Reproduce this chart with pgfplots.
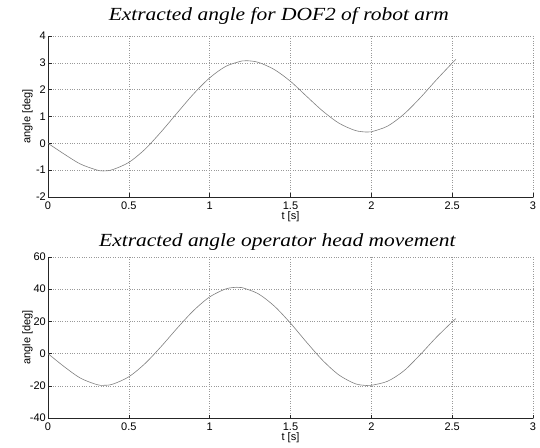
\documentclass[border=0pt]{standalone}
\usepackage{fontspec}
\setmainfont{Liberation Sans}
\newfontfamily\titlefont{Liberation Serif}
\usepackage{pgfplots}
\pgfplotsset{compat=1.18}

\newcommand{\lblfont}{\fontsize{11}{13}\selectfont}

\pgfplotsset{
  matlabplot/.style={
    scale only axis, width=485pt, height=161pt,
    anchor=south west,
    xmin=0, xmax=3,
    xtick={0,0.5,1,1.5,2,2.5,3},
    axis x line=bottom, axis y line=left,
    axis line style={-, black!85, line width=0.5pt},
    tick align=inside, major tick length=3.5pt,
    tick style={black!85, line width=0.5pt},
    grid=major, grid style={dotted, gray!80, line width=0.5pt},
    /pgf/number format/assume math mode=true,
    tick label style={font=\lblfont},
    xticklabel style={inner sep=0pt, anchor=north, yshift=-4.5pt},
    yticklabel style={inner sep=0pt, anchor=east, xshift=-2pt},
    clip=false,
    title style={anchor=base,
      font=\titlefont\itshape\fontsize{18.5}{20}\selectfont,
      fill=white, inner sep=3pt, xscale=1.16},
  },
  curve/.style={gray, line width=0.6pt, smooth, no markers},
}

\begin{document}
\begin{tikzpicture}
\path[use as bounding box] (0,0) rectangle (540pt,447pt);

\begin{axis}[matlabplot, at={(48pt,250pt)},
  ymin=-2, ymax=4, ytick={-2,-1,0,1,2,3,4},
  title={Extracted angle for DOF2 of robot arm},
  title style={at={(axis description cs:0.476,1)}, yshift=9.3pt}]
\addplot[curve] coordinates {
  (0,0) (0.1,-0.40) (0.2,-0.77) (0.3,-0.99) (0.342,-1.03)
  (0.4,-0.98) (0.5,-0.71) (0.6,-0.22) (0.7,0.43) (0.8,1.14)
  (0.9,1.84) (1.0,2.44) (1.1,2.87) (1.2,3.07) (1.23,3.08)
  (1.3,3.02) (1.4,2.75) (1.5,2.31) (1.6,1.75) (1.7,1.20)
  (1.8,0.75) (1.9,0.48) (1.97,0.42) (2.0,0.43) (2.1,0.64)
  (2.2,1.08) (2.3,1.68) (2.4,2.35) (2.5,2.99) (2.523,3.13)};
\node[font=\lblfont, inner sep=0pt, rotate=90, yshift=20.5pt]
  at (axis description cs:0,0.5) {angle [deg]};
\node[font=\lblfont, inner sep=0pt, yshift=-20pt]
  at (axis description cs:0.5,0) {t [s]};
\end{axis}

\begin{axis}[matlabplot, at={(48pt,29pt)},
  ymin=-40, ymax=60, ytick={-40,-20,0,20,40,60},
  title={Extracted angle operator head movement},
  title style={at={(axis description cs:0.473,1)}, yshift=4.7pt}]
\addplot[curve] coordinates {
  (0,0) (0.1,-8.1) (0.2,-15.2) (0.3,-19.2) (0.342,-19.7)
  (0.4,-19.0) (0.5,-14.4) (0.6,-6.2) (0.7,4.4) (0.8,15.9)
  (0.9,26.7) (1.0,35.2) (1.1,40.2) (1.168,41.2) (1.2,41.0)
  (1.3,37.2) (1.4,29.5) (1.5,18.9) (1.6,7.0) (1.7,-4.3)
  (1.8,-13.3) (1.9,-18.7) (1.97,-19.8) (2.0,-19.7) (2.1,-17.2)
  (2.2,-10.8) (2.3,-0.9) (2.4,9.9) (2.5,19.7) (2.523,21.7)};
\node[font=\lblfont, inner sep=0pt, rotate=90, yshift=20.5pt]
  at (axis description cs:0,0.5) {angle [deg]};
\node[font=\lblfont, inner sep=0pt, yshift=-20pt]
  at (axis description cs:0.5,0) {t [s]};
\end{axis}
\end{tikzpicture}
\end{document}
